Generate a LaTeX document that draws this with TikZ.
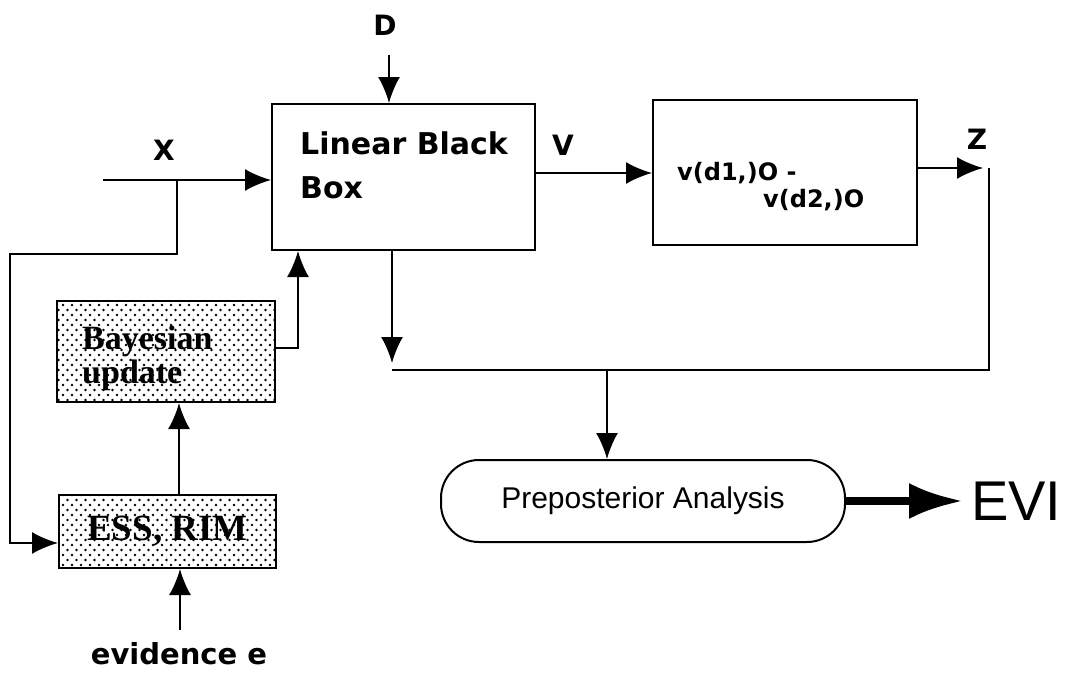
\documentclass[tikz,border=0pt]{standalone}
\usepackage{fontspec}
\setmainfont{DejaVu Sans}
\newfontfamily\slabfont{Liberation Serif}
\newfontfamily\plainfont{Liberation Sans}
\usetikzlibrary{arrows.meta,patterns}

% staggered dot screen used for the shaded process boxes
\pgfdeclarepatternformonly{screendots}{\pgfqpoint{-2pt}{-2pt}}{\pgfqpoint{11pt}{12pt}}{\pgfqpoint{9pt}{10pt}}{%
  \pgfpathcircle{\pgfqpoint{0pt}{0pt}}{1.4pt}%
  \pgfpathcircle{\pgfqpoint{4.5pt}{5pt}}{1.4pt}%
  \pgfusepath{fill}}

\tikzset{
  ln/.style={line width=2pt, line join=miter},
  arr/.style={ln, -{Latex[length=26pt,width=22pt]}},
  bigarr/.style={line width=8pt, -{Latex[length=54pt,width=36pt]}},
  box/.style={draw, line width=2pt, inner sep=0pt},
  shaded/.style={box, pattern=screendots},
  lbl/.style={font=\bfseries\fontsize{28}{30}\selectfont, inner sep=0pt},
}

\begin{document}
\begin{tikzpicture}[x=1pt, y=-1pt]
\useasboundingbox (0,0) rectangle (1069,675);

% main blocks
\node[box, minimum width=263pt, minimum height=146pt] (lbb) at (403.5,177) {};
\node[anchor=north west, inner sep=0pt, align=left,
      font=\bfseries\fontsize{30}{44}\selectfont] (lbbtxt) at (300,132) {Linear Black\\Box};

\node[box, minimum width=264pt, minimum height=145pt] (rb) at (785,172.5) {};
\node[anchor=north west, inner sep=0pt, font=\bfseries\fontsize{24}{28}\selectfont] (rb1) at (677,162) {v(d1,)O -};
\node[anchor=north west, inner sep=0pt, font=\bfseries\fontsize{24}{28}\selectfont] (rb2) at (763,189) {v(d2,)O};

\node[shaded, minimum width=218pt, minimum height=101pt] (bay) at (166,351.5) {};
\node[anchor=north west, inner sep=0pt, align=left,
      font=\slabfont\bfseries\fontsize{34}{34}\selectfont] (baytxt) at (82,326) {Bayesian\\update};

\node[shaded, minimum width=217pt, minimum height=73pt] (ess) at (167.5,531.5)
     {\slabfont\bfseries\fontsize{37}{38}\selectfont ESS, RIM};

\node[draw, line width=2pt, rounded corners=38pt, minimum width=404pt, minimum height=82pt,
      inner sep=0pt, font=\plainfont\fontsize{30}{32}\selectfont] (pa) at (643,501) {Preposterior Analysis};

\node[anchor=west, inner sep=8pt, font=\plainfont\fontsize{56}{60}\selectfont] (evi) at (963,501) {EVI};

% signal labels
\node[lbl] (xl) at (164,150) {X};
\node[lbl] (dl) at (385,25) {D};
\node[lbl] (vl) at (563,145) {V};
\node[lbl] (zl) at (977,139) {Z};
\node[font=\bfseries\fontsize{29}{32}\selectfont, inner sep=0pt] (evl) at (179,654) {evidence e};

% connector end points
\coordinate (xin) at (103,180);
\coordinate (xtap) at (177,180);
\coordinate (fbl) at (10,254);
\coordinate (fbe) at (10,543);
\coordinate (bu) at (298,348);
\coordinate (eb) at (179,0);
\coordinate (evs) at (180,630);
\coordinate (ds) at (389,55);
\coordinate (lb) at (392,363);
\coordinate (vy) at (0,173);
\coordinate (zend) at (983,168);
\coordinate (jr) at (989,370);
\coordinate (jl) at (392,370);
\coordinate (jo) at (607,370);

% X input and feedback to ESS, RIM
\draw[arr] (xin) -- (xin -| lbb.west);
\draw[arr] (xtap) |- (fbl) -- (fbe) -- (fbe -| ess.west);

% evidence path
\draw[arr] (evs) -- (evs |- ess.south);
\draw[arr] (ess.north -| eb) -- (bay.south -| eb);
\draw[arr] (bay.east |- bu) -- (bu) -- (bu |- lbb.south);

% decision input
\draw[arr] (ds) -- (ds |- lbb.north);

% value difference chain
\draw[arr] (lbb.east |- vy) -- (rb.west |- vy);
\draw[arr] (rb.east |- zend) -- (zend);
\draw[ln] (zend -| jr) -- (jr) -- (jl);
\draw[arr] (lbb.south -| lb) -- (lb);
\draw[arr] (jo) -- (jo |- pa.north);

% result
\draw[bigarr] (pa.east) -- (evi.west);
\end{tikzpicture}
\end{document}
